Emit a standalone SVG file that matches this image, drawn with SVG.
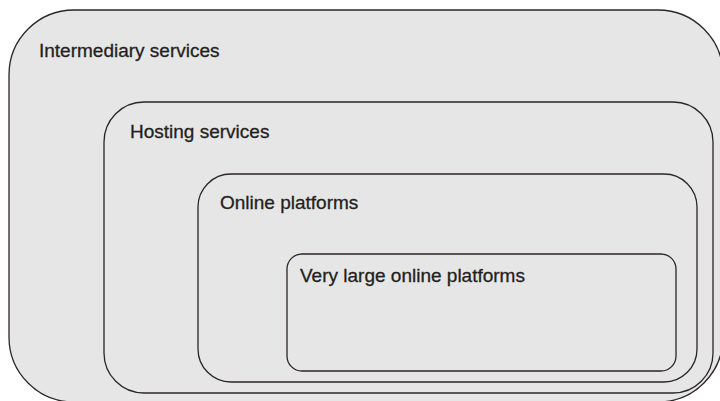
<svg xmlns="http://www.w3.org/2000/svg" width="720" height="401" viewBox="0 0 720 401">
<style>
.box{fill:#e6e6e6;stroke:#2b2627;stroke-width:1.3}
.lbl{font-family:"Liberation Sans",Arial,sans-serif;font-size:19px;fill:#231f20;stroke:#231f20;stroke-width:0.3}
</style>
<rect width="720" height="401" fill="#ffffff"/>
<g id="intermediary">
<rect class="box" x="9" y="10" width="714" height="392" rx="65" ry="65"/>
<text class="lbl" x="39" y="57">Intermediary services</text>
</g>
<g id="hosting">
<rect class="box" x="104" y="102" width="609" height="291" rx="40" ry="40"/>
<text class="lbl" x="130" y="138">Hosting services</text>
</g>
<g id="online">
<rect class="box" x="198" y="174" width="499" height="208" rx="33" ry="33"/>
<text class="lbl" x="220" y="209">Online platforms</text>
</g>
<g id="vlop">
<rect class="box" x="287" y="254" width="389" height="117" rx="15" ry="15"/>
<text class="lbl" x="300" y="282">Very large online platforms</text>
</g>
<g id="connectors"></g>
</svg>
